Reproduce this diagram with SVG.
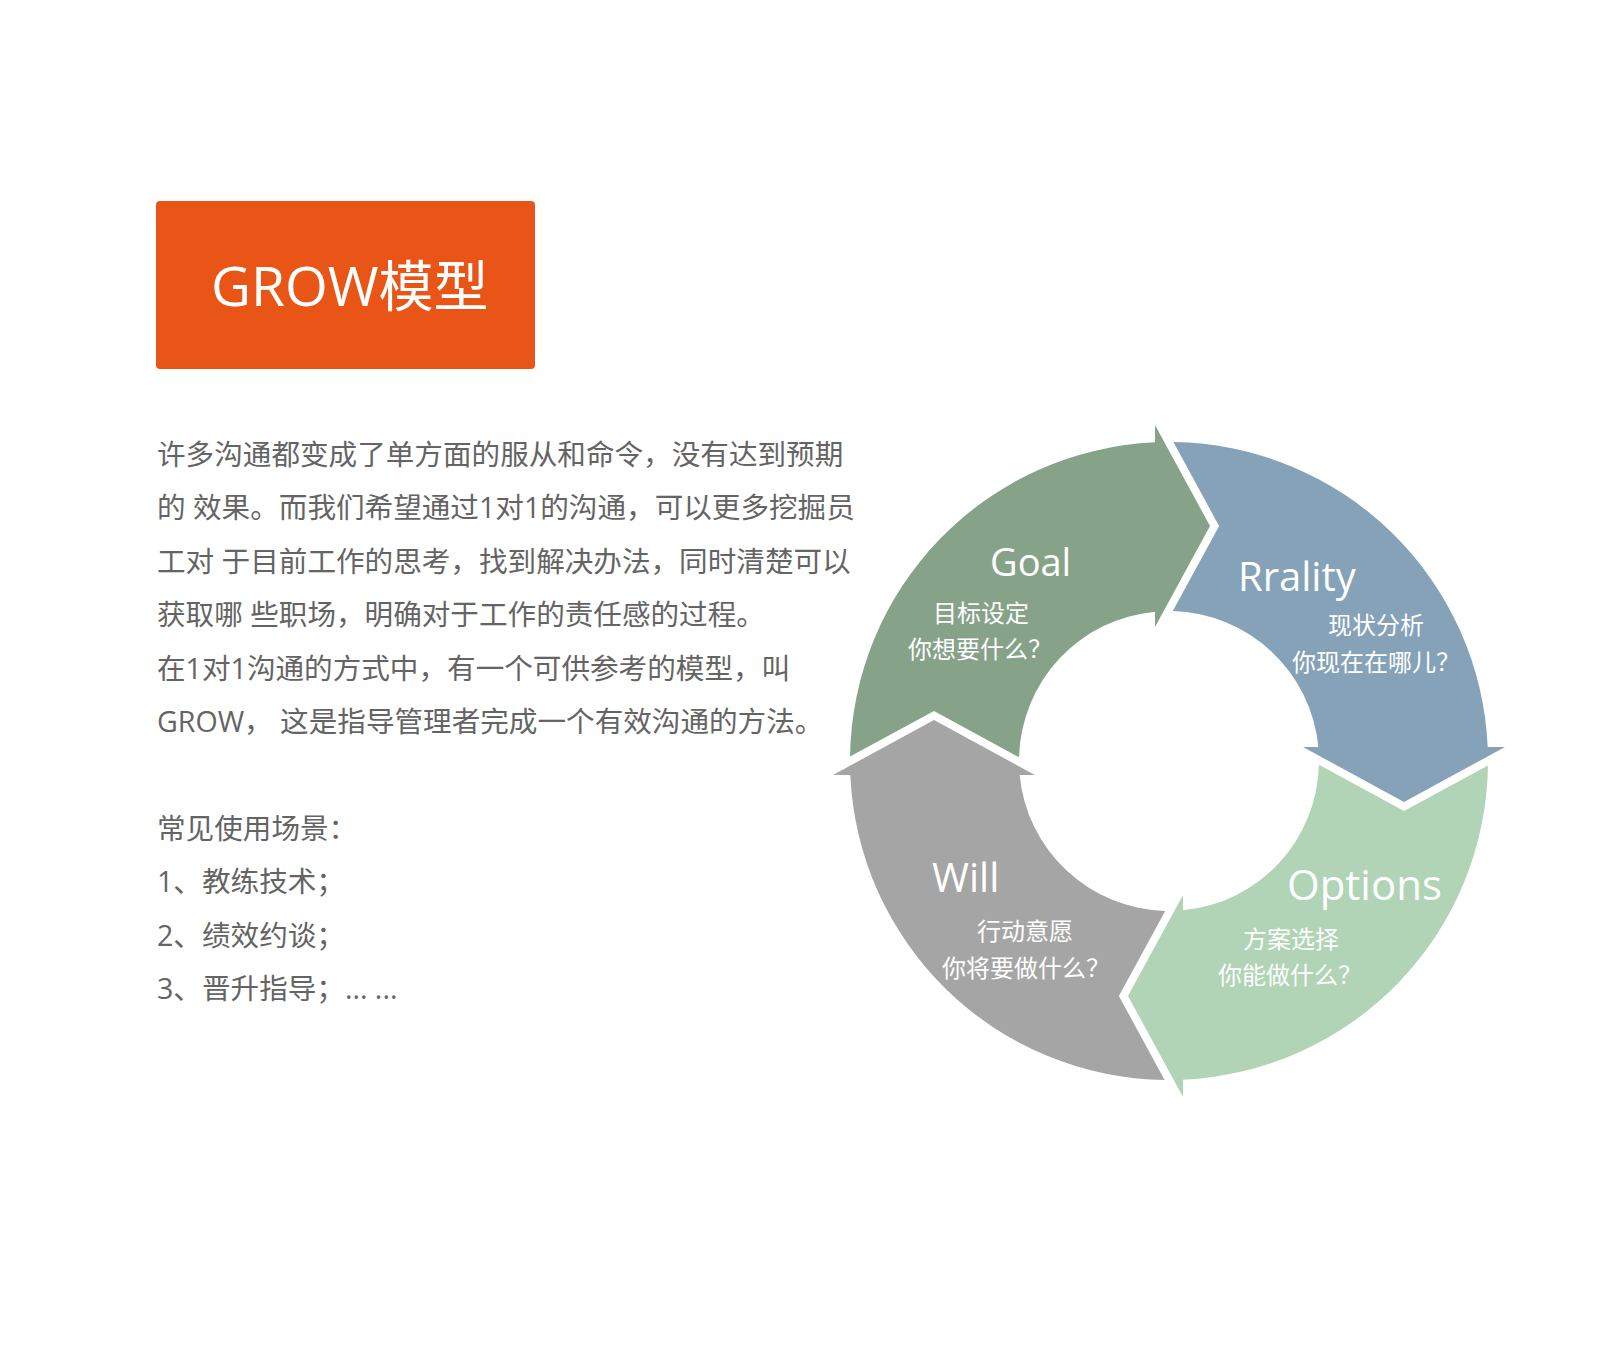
<svg xmlns="http://www.w3.org/2000/svg" width="1600" height="1348" viewBox="0 0 1600 1348">
<style>
  .body { font-family: "Open Sans", "Noto Sans CJK SC", sans-serif; font-size: 28.6px; fill: #646464; white-space: pre; }
  .lbl { font-family: "Open Sans", "Noto Sans CJK SC", sans-serif; fill: #ffffff; }
  .sub { font-family: "Open Sans", "Noto Sans CJK SC", sans-serif; font-size: 24px; fill: #ffffff; }
  .title { font-family: "Open Sans", "Noto Sans CJK SC", sans-serif; font-size: 55px; fill: #ffffff; }
</style>
<rect width="1600" height="1348" fill="#ffffff"/>

<g id="title">
  <rect x="156" y="201" width="379" height="168" rx="4" fill="#E85516"/>
  <text class="title" x="211" y="306">GROW模型</text>
</g>

<g id="description">
  <text class="body" x="157" y="465">许多沟通都变成了单方面的服从和命令，没有达到预期</text>
  <text class="body" x="157" y="518.4">的 效果。而我们希望通过1对1的沟通，可以更多挖掘员</text>
  <text class="body" x="157" y="571.8">工对 于目前工作的思考，找到解决办法，同时清楚可以</text>
  <text class="body" x="157" y="625.2">获取哪 些职场，明确对于工作的责任感的过程。</text>
  <text class="body" x="157" y="678.6">在1对1沟通的方式中，有一个可供参考的模型，叫</text>
  <text class="body" x="157" y="732">GROW， 这是指导管理者完成一个有效沟通的方法。</text>
  <text class="body" x="157" y="838.8">常见使用场景：</text>
  <text class="body" x="157" y="892.2">1、教练技术；</text>
  <text class="body" x="157" y="945.6">2、绩效约谈；</text>
  <text class="body" x="157" y="999">3、晋升指导；... ...</text>
</g>

<g id="node-goal">
  <path transform="translate(1169 761)" fill="#86A38A" d="M -318.97 -4.38 A 319 319 0 0 1 -14 -318.69 L -14 -336 L 41 -235 L -14 -134 L -14 -149.35 A 150 150 0 0 0 -149.95 -3.8 L -235 -50.11 Z"/>
  <text class="lbl" x="990" y="576" font-size="38">Goal</text>
  <text class="sub" x="933" y="622">目标设定</text>
  <text class="sub" x="908" y="658">你想要什么？</text>
</g>

<g id="node-reality">
  <path transform="translate(1169 761)" fill="#85A2B9" d="M 4.38 -318.97 A 319 319 0 0 1 318.69 -14 L 336 -14 L 235 41 L 134 -14 L 149.35 -14 A 150 150 0 0 0 3.8 -149.95 L 50.11 -235 Z"/>
  <text class="lbl" x="1238" y="591" font-size="40">Rrality</text>
  <text class="sub" x="1328" y="634">现状分析</text>
  <text class="sub" x="1292" y="671">你现在在哪儿？</text>
</g>

<g id="node-options">
  <path transform="translate(1169 761)" fill="#B0D4B5" d="M 318.97 4.38 A 319 319 0 0 1 14 318.69 L 14 336 L -41 235 L 14 134 L 14 149.35 A 150 150 0 0 0 149.95 3.8 L 235 50.11 Z"/>
  <text class="lbl" x="1287" y="900" font-size="42">Options</text>
  <text class="sub" x="1243" y="948">方案选择</text>
  <text class="sub" x="1218" y="984">你能做什么？</text>
</g>

<g id="node-will">
  <path transform="translate(1169 761)" fill="#A5A5A5" d="M -4.38 318.97 A 319 319 0 0 1 -318.69 14 L -336 14 L -235 -41 L -134 14 L -149.35 14 A 150 150 0 0 0 -3.8 149.95 L -50.11 235 Z"/>
  <text class="lbl" x="932" y="892" font-size="40">Will</text>
  <text class="sub" x="977" y="940">行动意愿</text>
  <text class="sub" x="942" y="977">你将要做什么？</text>
</g>
</svg>
